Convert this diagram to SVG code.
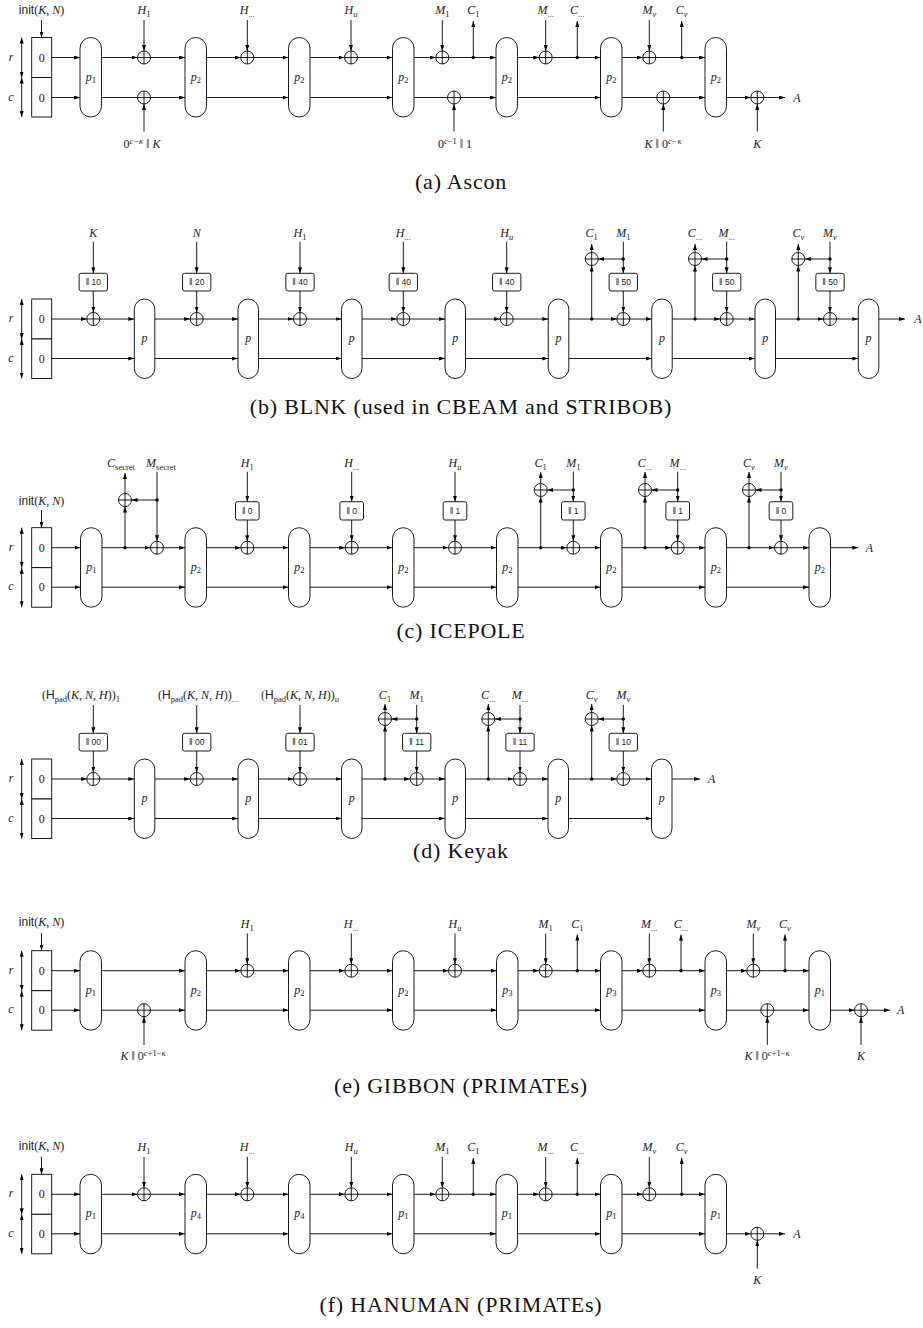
<svg xmlns="http://www.w3.org/2000/svg" xmlns:xlink="http://www.w3.org/1999/xlink" width="923" height="1328" viewBox="0 0 923 1328">
<style>
.w{fill:none;stroke:#000;stroke-width:0.9;marker-end:url(#ah)}
.b{marker-start:url(#ah)}
.pb{fill:#fff;stroke:#000;stroke-width:0.9}
.t{font-family:"Liberation Serif",serif;font-size:12px;fill:#222;text-anchor:middle}
.i{font-style:italic}
.s{font-size:8.5px}
.sf{font-family:"Liberation Sans",sans-serif}
.bt{font-family:"Liberation Sans",sans-serif;font-size:8.5px;fill:#222;text-anchor:middle}
.cap{font-family:"Liberation Serif",serif;font-size:22px;fill:#111;text-anchor:middle;letter-spacing:0.8px}
</style>
<defs>
<marker id="ah" viewBox="0 0 6 4" refX="6" refY="2" markerWidth="6" markerHeight="4" markerUnits="userSpaceOnUse" orient="auto-start-reverse"><path d="M0,0L6,2L0,4z" fill="#000"/></marker>
<g id="x"><circle r="6.5" fill="#fff" stroke="#000" stroke-width="0.9"/><path d="M-6.5,0H6.5M0,-6.5V6.5" stroke="#000" stroke-width="0.9"/></g>
<circle id="d" r="1.7" fill="#000"/>
</defs>
<rect width="923" height="1328" fill="#fff"/>

<!-- ===== Panel (a) Ascon ===== -->
<g id="a-conn" class="w">
<path d="M51.7 57.5H80"/><path d="M101.5 57.5H137.5"/><path d="M150.5 57.5H185"/><path d="M206.5 57.5H240.8"/><path d="M253.8 57.5H288.5"/><path d="M310 57.5H344.5"/><path d="M357.5 57.5H392.5"/><path d="M414 57.5H435.8"/><path d="M448.8 57.5H496"/><path d="M517.5 57.5H539.2"/><path d="M552.2 57.5H600.5"/><path d="M622 57.5H642.8"/><path d="M655.8 57.5H705"/>
<path d="M51.7 97.5H80"/><path d="M101.5 97.5H185"/><path d="M206.5 97.5H288.5"/><path d="M310 97.5H392.5"/><path d="M414 97.5H496"/><path d="M517.5 97.5H600.5"/><path d="M622 97.5H705"/><path d="M726.5 97.5H750.8"/><path d="M763.8 97.5H785"/>
<path d="M41.5 20V37.5"/><path d="M144 20V51"/><path d="M247.3 20V51"/><path d="M351 20V51"/><path d="M442.3 20V51"/><path d="M545.7 20V51"/><path d="M649.3 20V51"/>
<path d="M473.3 57.5V21"/><path d="M577.3 57.5V21"/><path d="M681.7 57.5V21"/>
<path d="M144 131.5V104"/><path d="M454 131.5V104"/><path d="M663.3 131.5V104"/><path d="M757.3 131.5V104"/>
<path class="b" d="M21.7 37.5V77.5"/><path class="b" d="M21.7 77.5V117"/>
</g>
<g id="a-nodes">
<g id="a-init"><rect class="pb" x="31.7" y="37.5" width="20" height="40"/><rect class="pb" x="31.7" y="77.5" width="20" height="39.5"/><text class="t" x="41.7" y="61.5">0</text><text class="t" x="41.7" y="101.5">0</text><text class="t" x="41.5" y="14"><tspan class="sf">init</tspan>(<tspan class="i">K</tspan>, <tspan class="i">N</tspan>)</text><text class="t i" x="11" y="60.5">r</text><text class="t i" x="11" y="100.5">c</text></g>
<g id="a-p1"><rect class="pb" x="80" y="37.5" width="21.5" height="79.5" rx="10.75"/><text class="t" x="90.75" y="80.5"><tspan class="i">p</tspan><tspan class="s" dy="2">1</tspan></text></g>
<g id="a-p2"><rect class="pb" x="185" y="37.5" width="21.5" height="79.5" rx="10.75"/><text class="t" x="195.75" y="80.5"><tspan class="i">p</tspan><tspan class="s" dy="2">2</tspan></text></g>
<g id="a-p3"><rect class="pb" x="288.5" y="37.5" width="21.5" height="79.5" rx="10.75"/><text class="t" x="299.25" y="80.5"><tspan class="i">p</tspan><tspan class="s" dy="2">2</tspan></text></g>
<g id="a-p4"><rect class="pb" x="392.5" y="37.5" width="21.5" height="79.5" rx="10.75"/><text class="t" x="403.25" y="80.5"><tspan class="i">p</tspan><tspan class="s" dy="2">2</tspan></text></g>
<g id="a-p5"><rect class="pb" x="496" y="37.5" width="21.5" height="79.5" rx="10.75"/><text class="t" x="506.75" y="80.5"><tspan class="i">p</tspan><tspan class="s" dy="2">2</tspan></text></g>
<g id="a-p6"><rect class="pb" x="600.5" y="37.5" width="21.5" height="79.5" rx="10.75"/><text class="t" x="611.25" y="80.5"><tspan class="i">p</tspan><tspan class="s" dy="2">2</tspan></text></g>
<g id="a-p7"><rect class="pb" x="705" y="37.5" width="21.5" height="79.5" rx="10.75"/><text class="t" x="715.75" y="80.5"><tspan class="i">p</tspan><tspan class="s" dy="2">2</tspan></text></g>
<g id="a-x1"><use xlink:href="#x" x="144" y="57.5"/><text class="t" x="144" y="14"><tspan class="i">H</tspan><tspan class="s" dy="2.5">1</tspan></text></g>
<g id="a-x2"><use xlink:href="#x" x="247.3" y="57.5"/><text class="t" x="247.3" y="14"><tspan class="i">H</tspan><tspan class="s" dy="2.5">...</tspan></text></g>
<g id="a-x3"><use xlink:href="#x" x="351" y="57.5"/><text class="t" x="351" y="14"><tspan class="i">H</tspan><tspan class="s i" dy="2.5">u</tspan></text></g>
<g id="a-x4"><use xlink:href="#x" x="442.3" y="57.5"/><text class="t" x="442.3" y="14"><tspan class="i">M</tspan><tspan class="s" dy="2.5">1</tspan></text></g>
<g id="a-d1"><use xlink:href="#d" x="473.3" y="57.5"/><text class="t" x="473.3" y="14"><tspan class="i">C</tspan><tspan class="s" dy="2.5">1</tspan></text></g>
<g id="a-x5"><use xlink:href="#x" x="545.7" y="57.5"/><text class="t" x="545.7" y="14"><tspan class="i">M</tspan><tspan class="s" dy="2.5">...</tspan></text></g>
<g id="a-d2"><use xlink:href="#d" x="577.3" y="57.5"/><text class="t" x="577.3" y="14"><tspan class="i">C</tspan><tspan class="s" dy="2.5">...</tspan></text></g>
<g id="a-x6"><use xlink:href="#x" x="649.3" y="57.5"/><text class="t" x="649.3" y="14"><tspan class="i">M</tspan><tspan class="s i" dy="2.5">v</tspan></text></g>
<g id="a-d3"><use xlink:href="#d" x="681.7" y="57.5"/><text class="t" x="681.7" y="14"><tspan class="i">C</tspan><tspan class="s i" dy="2.5">v</tspan></text></g>
<g id="a-x7"><use xlink:href="#x" x="144" y="97.5"/><text class="t" x="142" y="148">0<tspan class="s i" dy="-4">c−κ</tspan><tspan dy="4"> ‖ </tspan><tspan class="i">K</tspan></text></g>
<g id="a-x8"><use xlink:href="#x" x="454" y="97.5"/><text class="t" x="455" y="148">0<tspan class="s" dy="-4"><tspan class="i">c</tspan>−1</tspan><tspan dy="4"> ‖ 1</tspan></text></g>
<g id="a-x9"><use xlink:href="#x" x="663.3" y="97.5"/><text class="t" x="663" y="148"><tspan class="i">K</tspan> ‖ 0<tspan class="s i" dy="-4">c−κ</tspan></text></g>
<g id="a-x10"><use xlink:href="#x" x="757.3" y="97.5"/><text class="t i" x="757.3" y="148">K</text></g>
<text class="t i" x="797" y="101.5">A</text>
<text class="cap" x="461" y="189">(a) Ascon</text>
</g>

<!-- ===== Panel (b) BLNK ===== -->
<g id="b-conn" class="w">
<path d="M51.7 319H86.8"/><path d="M99.8 319H134.3"/><path d="M154.8 319H190.2"/><path d="M203.2 319H238"/><path d="M258.5 319H293.5"/><path d="M306.5 319H341.5"/><path d="M362 319H396.8"/><path d="M409.8 319H445"/><path d="M465.5 319H500.2"/><path d="M513.2 319H548.3"/><path d="M568.8 319H616.8"/><path d="M629.8 319H651.7"/><path d="M672.2 319H720.2"/><path d="M733.2 319H755"/><path d="M775.5 319H823.5"/><path d="M836.5 319H858.3"/><path d="M878.8 319H905"/>
<path d="M51.7 358.5H134.3"/><path d="M154.8 358.5H238"/><path d="M258.5 358.5H341.5"/><path d="M362 358.5H445"/><path d="M465.5 358.5H548.3"/><path d="M568.8 358.5H651.7"/><path d="M672.2 358.5H755"/><path d="M775.5 358.5H858.3"/>
<path d="M93.3 241.7V273.3"/><path d="M196.7 241.7V273.3"/><path d="M300 241.7V273.3"/><path d="M403.3 241.7V273.3"/><path d="M506.7 241.7V273.3"/><path d="M623.3 241.7V273.3"/><path d="M726.7 241.7V273.3"/><path d="M830 241.7V273.3"/>
<path d="M93.3 291V312.5"/><path d="M196.7 291V312.5"/><path d="M300 291V312.5"/><path d="M403.3 291V312.5"/><path d="M506.7 291V312.5"/><path d="M623.3 291V312.5"/><path d="M726.7 291V312.5"/><path d="M830 291V312.5"/>
<path d="M591.7 319V265.5"/><path d="M591.7 252.5V244"/><path d="M695 319V265.5"/><path d="M695 252.5V244"/><path d="M798.3 319V265.5"/><path d="M798.3 252.5V244"/>
<path d="M623.3 259H598.2"/><path d="M726.7 259H701.5"/><path d="M830 259H804.8"/>
<path class="b" d="M21.7 299V339"/><path class="b" d="M21.7 339V378.5"/>
</g>
<g id="b-nodes">
<g id="b-init"><rect class="pb" x="31.7" y="299" width="20" height="40"/><rect class="pb" x="31.7" y="339" width="20" height="39.5"/><text class="t" x="41.7" y="323">0</text><text class="t" x="41.7" y="362.5">0</text><text class="t i" x="11" y="322">r</text><text class="t i" x="11" y="361.5">c</text></g>
<g id="b-p1"><rect class="pb" x="134.3" y="299" width="20.5" height="79.5" rx="10.25"/><text class="t i" x="144.55" y="342">p</text></g>
<g id="b-p2"><rect class="pb" x="238" y="299" width="20.5" height="79.5" rx="10.25"/><text class="t i" x="248.25" y="342">p</text></g>
<g id="b-p3"><rect class="pb" x="341.5" y="299" width="20.5" height="79.5" rx="10.25"/><text class="t i" x="351.75" y="342">p</text></g>
<g id="b-p4"><rect class="pb" x="445" y="299" width="20.5" height="79.5" rx="10.25"/><text class="t i" x="455.25" y="342">p</text></g>
<g id="b-p5"><rect class="pb" x="548.3" y="299" width="20.5" height="79.5" rx="10.25"/><text class="t i" x="558.55" y="342">p</text></g>
<g id="b-p6"><rect class="pb" x="651.7" y="299" width="20.5" height="79.5" rx="10.25"/><text class="t i" x="661.95" y="342">p</text></g>
<g id="b-p7"><rect class="pb" x="755" y="299" width="20.5" height="79.5" rx="10.25"/><text class="t i" x="765.25" y="342">p</text></g>
<g id="b-p8"><rect class="pb" x="858.3" y="299" width="20.5" height="79.5" rx="10.25"/><text class="t i" x="868.55" y="342">p</text></g>
<g id="b-x1"><use xlink:href="#x" x="93.3" y="319"/><rect class="pb" x="79.15" y="273.3" width="28.3" height="17.7" rx="2"/><text class="bt" x="93.3" y="285.3">‖ 10</text><text class="t i" x="93.3" y="237.3">K</text></g>
<g id="b-x2"><use xlink:href="#x" x="196.7" y="319"/><rect class="pb" x="182.55" y="273.3" width="28.3" height="17.7" rx="2"/><text class="bt" x="196.7" y="285.3">‖ 20</text><text class="t i" x="196.7" y="237.3">N</text></g>
<g id="b-x3"><use xlink:href="#x" x="300" y="319"/><rect class="pb" x="285.85" y="273.3" width="28.3" height="17.7" rx="2"/><text class="bt" x="300" y="285.3">‖ 40</text><text class="t" x="300" y="237.3"><tspan class="i">H</tspan><tspan class="s" dy="2.5">1</tspan></text></g>
<g id="b-x4"><use xlink:href="#x" x="403.3" y="319"/><rect class="pb" x="389.15" y="273.3" width="28.3" height="17.7" rx="2"/><text class="bt" x="403.3" y="285.3">‖ 40</text><text class="t" x="403.3" y="237.3"><tspan class="i">H</tspan><tspan class="s" dy="2.5">...</tspan></text></g>
<g id="b-x5"><use xlink:href="#x" x="506.7" y="319"/><rect class="pb" x="492.55" y="273.3" width="28.3" height="17.7" rx="2"/><text class="bt" x="506.7" y="285.3">‖ 40</text><text class="t" x="506.7" y="237.3"><tspan class="i">H</tspan><tspan class="s i" dy="2.5">u</tspan></text></g>
<g id="b-x6"><use xlink:href="#x" x="623.3" y="319"/><rect class="pb" x="609.15" y="273.3" width="28.3" height="17.7" rx="2"/><text class="bt" x="623.3" y="285.3">‖ 50</text><use xlink:href="#d" x="623.3" y="259"/><text class="t" x="623.3" y="237.3"><tspan class="i">M</tspan><tspan class="s" dy="2.5">1</tspan></text></g>
<g id="b-c1"><use xlink:href="#d" x="591.7" y="319"/><use xlink:href="#x" x="591.7" y="259"/><text class="t" x="591.7" y="237.3"><tspan class="i">C</tspan><tspan class="s" dy="2.5">1</tspan></text></g>
<g id="b-x7"><use xlink:href="#x" x="726.7" y="319"/><rect class="pb" x="712.55" y="273.3" width="28.3" height="17.7" rx="2"/><text class="bt" x="726.7" y="285.3">‖ 50</text><use xlink:href="#d" x="726.7" y="259"/><text class="t" x="726.7" y="237.3"><tspan class="i">M</tspan><tspan class="s" dy="2.5">...</tspan></text></g>
<g id="b-c2"><use xlink:href="#d" x="695" y="319"/><use xlink:href="#x" x="695" y="259"/><text class="t" x="695" y="237.3"><tspan class="i">C</tspan><tspan class="s" dy="2.5">...</tspan></text></g>
<g id="b-x8"><use xlink:href="#x" x="830" y="319"/><rect class="pb" x="815.85" y="273.3" width="28.3" height="17.7" rx="2"/><text class="bt" x="830" y="285.3">‖ 50</text><use xlink:href="#d" x="830" y="259"/><text class="t" x="830" y="237.3"><tspan class="i">M</tspan><tspan class="s i" dy="2.5">v</tspan></text></g>
<g id="b-c3"><use xlink:href="#d" x="798.3" y="319"/><use xlink:href="#x" x="798.3" y="259"/><text class="t" x="798.3" y="237.3"><tspan class="i">C</tspan><tspan class="s i" dy="2.5">v</tspan></text></g>
<text class="t i" x="918" y="323">A</text>
<text class="cap" x="461" y="414">(b) BLNK (used in CBEAM and STRIBOB)</text>
</g>

<!-- ===== Panel (c) ICEPOLE ===== -->
<g id="c-conn" class="w">
<path d="M51.7 547.7H80.5"/><path d="M102 547.7H150.5"/><path d="M163.5 547.7H185"/><path d="M206.5 547.7H240.8"/><path d="M253.8 547.7H288.5"/><path d="M310 547.7H345.2"/><path d="M358.2 547.7H392.5"/><path d="M414 547.7H448.5"/><path d="M461.5 547.7H496.5"/><path d="M518 547.7H566.8"/><path d="M579.8 547.7H600.5"/><path d="M622 547.7H671.2"/><path d="M684.2 547.7H705"/><path d="M726.5 547.7H774.5"/><path d="M787.5 547.7H809"/><path d="M830.5 547.7H858.3"/>
<path d="M51.7 587.2H80.5"/><path d="M102 587.2H185"/><path d="M206.5 587.2H288.5"/><path d="M310 587.2H392.5"/><path d="M414 587.2H496.5"/><path d="M518 587.2H600.5"/><path d="M622 587.2H705"/><path d="M726.5 587.2H809"/>
<path d="M41.5 510V527.7"/>
<path d="M157 471.7V541.2"/><path d="M125 547.7V506.5"/><path d="M125 493.5V473"/><path d="M157 500H131.5"/>
<path d="M247.3 471.7V501.7"/><path d="M247.3 520V541.2"/><path d="M351.7 471.7V501.7"/><path d="M351.7 520V541.2"/><path d="M455 471.7V501.7"/><path d="M455 520V541.2"/>
<path d="M540.7 547.7V496.5"/><path d="M540.7 483.5V472"/><path d="M573.3 471.7V501.7"/><path d="M573.3 520V541.2"/><path d="M573.3 490H547.2"/>
<path d="M645 547.7V496.5"/><path d="M645 483.5V472"/><path d="M677.7 471.7V501.7"/><path d="M677.7 520V541.2"/><path d="M677.7 490H651.5"/>
<path d="M749 547.7V496.5"/><path d="M749 483.5V472"/><path d="M781 471.7V501.7"/><path d="M781 520V541.2"/><path d="M781 490H755.5"/>
<path class="b" d="M21.7 527.7V567.7"/><path class="b" d="M21.7 567.7V607.2"/>
</g>
<g id="c-nodes">
<g id="c-init"><rect class="pb" x="31.7" y="527.7" width="20" height="40"/><rect class="pb" x="31.7" y="567.7" width="20" height="39.5"/><text class="t" x="41.7" y="551.7">0</text><text class="t" x="41.7" y="591.2">0</text><text class="t" x="41.5" y="505"><tspan class="sf">init</tspan>(<tspan class="i">K</tspan>, <tspan class="i">N</tspan>)</text><text class="t i" x="11" y="550.7">r</text><text class="t i" x="11" y="590.2">c</text></g>
<g id="c-p1"><rect class="pb" x="80.5" y="527.7" width="21.5" height="79.5" rx="10.75"/><text class="t" x="91.25" y="570.7"><tspan class="i">p</tspan><tspan class="s" dy="2">1</tspan></text></g>
<g id="c-p2"><rect class="pb" x="185" y="527.7" width="21.5" height="79.5" rx="10.75"/><text class="t" x="195.75" y="570.7"><tspan class="i">p</tspan><tspan class="s" dy="2">2</tspan></text></g>
<g id="c-p3"><rect class="pb" x="288.5" y="527.7" width="21.5" height="79.5" rx="10.75"/><text class="t" x="299.25" y="570.7"><tspan class="i">p</tspan><tspan class="s" dy="2">2</tspan></text></g>
<g id="c-p4"><rect class="pb" x="392.5" y="527.7" width="21.5" height="79.5" rx="10.75"/><text class="t" x="403.25" y="570.7"><tspan class="i">p</tspan><tspan class="s" dy="2">2</tspan></text></g>
<g id="c-p5"><rect class="pb" x="496.5" y="527.7" width="21.5" height="79.5" rx="10.75"/><text class="t" x="507.25" y="570.7"><tspan class="i">p</tspan><tspan class="s" dy="2">2</tspan></text></g>
<g id="c-p6"><rect class="pb" x="600.5" y="527.7" width="21.5" height="79.5" rx="10.75"/><text class="t" x="611.25" y="570.7"><tspan class="i">p</tspan><tspan class="s" dy="2">2</tspan></text></g>
<g id="c-p7"><rect class="pb" x="705" y="527.7" width="21.5" height="79.5" rx="10.75"/><text class="t" x="715.75" y="570.7"><tspan class="i">p</tspan><tspan class="s" dy="2">2</tspan></text></g>
<g id="c-p8"><rect class="pb" x="809" y="527.7" width="21.5" height="79.5" rx="10.75"/><text class="t" x="819.75" y="570.7"><tspan class="i">p</tspan><tspan class="s" dy="2">2</tspan></text></g>
<g id="c-sec"><use xlink:href="#d" x="125" y="547.7"/><use xlink:href="#x" x="125" y="500"/><use xlink:href="#d" x="157" y="500"/><use xlink:href="#x" x="157" y="547.7"/><text class="t" x="121" y="467"><tspan class="i">C</tspan><tspan class="s" dy="2.5">secret</tspan></text><text class="t" x="161" y="467"><tspan class="i">M</tspan><tspan class="s" dy="2.5">secret</tspan></text></g>
<g id="c-x1"><use xlink:href="#x" x="247.3" y="547.7"/><rect class="pb" x="235.5" y="501.7" width="23.6" height="18.3" rx="2"/><text class="bt" x="247.3" y="514">‖ 0</text><text class="t" x="247.3" y="467"><tspan class="i">H</tspan><tspan class="s" dy="2.5">1</tspan></text></g>
<g id="c-x2"><use xlink:href="#x" x="351.7" y="547.7"/><rect class="pb" x="339.9" y="501.7" width="23.6" height="18.3" rx="2"/><text class="bt" x="351.7" y="514">‖ 0</text><text class="t" x="351.7" y="467"><tspan class="i">H</tspan><tspan class="s" dy="2.5">...</tspan></text></g>
<g id="c-x3"><use xlink:href="#x" x="455" y="547.7"/><rect class="pb" x="443.2" y="501.7" width="23.6" height="18.3" rx="2"/><text class="bt" x="455" y="514">‖ 1</text><text class="t" x="455" y="467"><tspan class="i">H</tspan><tspan class="s i" dy="2.5">u</tspan></text></g>
<g id="c-x4"><use xlink:href="#x" x="573.3" y="547.7"/><rect class="pb" x="561.5" y="501.7" width="23.6" height="18.3" rx="2"/><text class="bt" x="573.3" y="514">‖ 1</text><use xlink:href="#d" x="573.3" y="490"/><text class="t" x="573.3" y="467"><tspan class="i">M</tspan><tspan class="s" dy="2.5">1</tspan></text></g>
<g id="c-c1"><use xlink:href="#d" x="540.7" y="547.7"/><use xlink:href="#x" x="540.7" y="490"/><text class="t" x="540.7" y="467"><tspan class="i">C</tspan><tspan class="s" dy="2.5">1</tspan></text></g>
<g id="c-x5"><use xlink:href="#x" x="677.7" y="547.7"/><rect class="pb" x="665.9" y="501.7" width="23.6" height="18.3" rx="2"/><text class="bt" x="677.7" y="514">‖ 1</text><use xlink:href="#d" x="677.7" y="490"/><text class="t" x="677.7" y="467"><tspan class="i">M</tspan><tspan class="s" dy="2.5">...</tspan></text></g>
<g id="c-c2"><use xlink:href="#d" x="645" y="547.7"/><use xlink:href="#x" x="645" y="490"/><text class="t" x="645" y="467"><tspan class="i">C</tspan><tspan class="s" dy="2.5">...</tspan></text></g>
<g id="c-x6"><use xlink:href="#x" x="781" y="547.7"/><rect class="pb" x="769.2" y="501.7" width="23.6" height="18.3" rx="2"/><text class="bt" x="781" y="514">‖ 0</text><use xlink:href="#d" x="781" y="490"/><text class="t" x="781" y="467"><tspan class="i">M</tspan><tspan class="s i" dy="2.5">v</tspan></text></g>
<g id="c-c3"><use xlink:href="#d" x="749" y="547.7"/><use xlink:href="#x" x="749" y="490"/><text class="t" x="749" y="467"><tspan class="i">C</tspan><tspan class="s i" dy="2.5">v</tspan></text></g>
<text class="t i" x="869.3" y="551.7">A</text>
<text class="cap" x="461" y="638">(c) ICEPOLE</text>
</g>

<!-- ===== Panel (d) Keyak ===== -->
<g id="d-conn" class="w">
<path d="M51.7 779H86.8"/><path d="M99.8 779H134.3"/><path d="M154.8 779H190.2"/><path d="M203.2 779H238"/><path d="M258.5 779H293.5"/><path d="M306.5 779H341.5"/><path d="M362 779H410.2"/><path d="M423.2 779H445"/><path d="M465.5 779H513.5"/><path d="M526.5 779H548"/><path d="M568.5 779H616.8"/><path d="M629.8 779H651.5"/><path d="M672 779H700"/>
<path d="M51.7 818.5H134.3"/><path d="M154.8 818.5H238"/><path d="M258.5 818.5H341.5"/><path d="M362 818.5H445"/><path d="M465.5 818.5H548"/><path d="M568.5 818.5H651.5"/>
<path d="M93.3 705V733.3"/><path d="M196.7 705V733.3"/><path d="M300 705V733.3"/><path d="M416.7 705V733.3"/><path d="M520 705V733.3"/><path d="M623.3 705V733.3"/>
<path d="M93.3 751V772.5"/><path d="M196.7 751V772.5"/><path d="M300 751V772.5"/><path d="M416.7 751V772.5"/><path d="M520 751V772.5"/><path d="M623.3 751V772.5"/>
<path d="M385 779V725.5"/><path d="M385 712.5V704"/><path d="M416.7 719H391.5"/>
<path d="M488.3 779V725.5"/><path d="M488.3 712.5V704"/><path d="M520 719H494.8"/>
<path d="M591.7 779V725.5"/><path d="M591.7 712.5V704"/><path d="M623.3 719H598.2"/>
<path class="b" d="M21.7 759V799"/><path class="b" d="M21.7 799V838.5"/>
</g>
<g id="d-nodes">
<g id="d-init"><rect class="pb" x="31.7" y="759" width="20" height="40"/><rect class="pb" x="31.7" y="799" width="20" height="39.5"/><text class="t" x="41.7" y="783">0</text><text class="t" x="41.7" y="822.5">0</text><text class="t i" x="11" y="782">r</text><text class="t i" x="11" y="821.5">c</text></g>
<g id="d-p1"><rect class="pb" x="134.3" y="759" width="20.5" height="79.5" rx="10.25"/><text class="t i" x="144.55" y="802">p</text></g>
<g id="d-p2"><rect class="pb" x="238" y="759" width="20.5" height="79.5" rx="10.25"/><text class="t i" x="248.25" y="802">p</text></g>
<g id="d-p3"><rect class="pb" x="341.5" y="759" width="20.5" height="79.5" rx="10.25"/><text class="t i" x="351.75" y="802">p</text></g>
<g id="d-p4"><rect class="pb" x="445" y="759" width="20.5" height="79.5" rx="10.25"/><text class="t i" x="455.25" y="802">p</text></g>
<g id="d-p5"><rect class="pb" x="548" y="759" width="20.5" height="79.5" rx="10.25"/><text class="t i" x="558.25" y="802">p</text></g>
<g id="d-p6"><rect class="pb" x="651.5" y="759" width="20.5" height="79.5" rx="10.25"/><text class="t i" x="661.75" y="802">p</text></g>
<g id="d-x1"><use xlink:href="#x" x="93.3" y="779"/><rect class="pb" x="79.15" y="733.3" width="28.3" height="17.7" rx="2"/><text class="bt" x="93.3" y="745.3">‖ 00</text><text class="t" x="81" y="699">(<tspan class="sf">H</tspan><tspan class="s" dy="2.5">pad</tspan><tspan dy="-2.5">(</tspan><tspan class="i">K</tspan>, <tspan class="i">N</tspan>, <tspan class="i">H</tspan>))<tspan class="s" dy="2.5">1</tspan></text></g>
<g id="d-x2"><use xlink:href="#x" x="196.7" y="779"/><rect class="pb" x="182.55" y="733.3" width="28.3" height="17.7" rx="2"/><text class="bt" x="196.7" y="745.3">‖ 00</text><text class="t" x="198" y="699">(<tspan class="sf">H</tspan><tspan class="s" dy="2.5">pad</tspan><tspan dy="-2.5">(</tspan><tspan class="i">K</tspan>, <tspan class="i">N</tspan>, <tspan class="i">H</tspan>))<tspan class="s" dy="2.5">...</tspan></text></g>
<g id="d-x3"><use xlink:href="#x" x="300" y="779"/><rect class="pb" x="285.85" y="733.3" width="28.3" height="17.7" rx="2"/><text class="bt" x="300" y="745.3">‖ 01</text><text class="t" x="300" y="699">(<tspan class="sf">H</tspan><tspan class="s" dy="2.5">pad</tspan><tspan dy="-2.5">(</tspan><tspan class="i">K</tspan>, <tspan class="i">N</tspan>, <tspan class="i">H</tspan>))<tspan class="s i" dy="2.5">u</tspan></text></g>
<g id="d-x4"><use xlink:href="#x" x="416.7" y="779"/><rect class="pb" x="402.55" y="733.3" width="28.3" height="17.7" rx="2"/><text class="bt" x="416.7" y="745.3">‖ 11</text><use xlink:href="#d" x="416.7" y="719"/><text class="t" x="416.7" y="699"><tspan class="i">M</tspan><tspan class="s" dy="2.5">1</tspan></text></g>
<g id="d-c1"><use xlink:href="#d" x="385" y="779"/><use xlink:href="#x" x="385" y="719"/><text class="t" x="385" y="699"><tspan class="i">C</tspan><tspan class="s" dy="2.5">1</tspan></text></g>
<g id="d-x5"><use xlink:href="#x" x="520" y="779"/><rect class="pb" x="505.85" y="733.3" width="28.3" height="17.7" rx="2"/><text class="bt" x="520" y="745.3">‖ 11</text><use xlink:href="#d" x="520" y="719"/><text class="t" x="520" y="699"><tspan class="i">M</tspan><tspan class="s" dy="2.5">...</tspan></text></g>
<g id="d-c2"><use xlink:href="#d" x="488.3" y="779"/><use xlink:href="#x" x="488.3" y="719"/><text class="t" x="488.3" y="699"><tspan class="i">C</tspan><tspan class="s" dy="2.5">...</tspan></text></g>
<g id="d-x6"><use xlink:href="#x" x="623.3" y="779"/><rect class="pb" x="609.15" y="733.3" width="28.3" height="17.7" rx="2"/><text class="bt" x="623.3" y="745.3">‖ 10</text><use xlink:href="#d" x="623.3" y="719"/><text class="t" x="623.3" y="699"><tspan class="i">M</tspan><tspan class="s i" dy="2.5">v</tspan></text></g>
<g id="d-c3"><use xlink:href="#d" x="591.7" y="779"/><use xlink:href="#x" x="591.7" y="719"/><text class="t" x="591.7" y="699"><tspan class="i">C</tspan><tspan class="s i" dy="2.5">v</tspan></text></g>
<text class="t i" x="711.7" y="783">A</text>
<text class="cap" x="461" y="858">(d) Keyak</text>
</g>

<!-- ===== Panel (e) GIBBON ===== -->
<g id="e-conn" class="w">
<path d="M51.7 970.7H80"/><path d="M101.5 970.7H185"/><path d="M206.5 970.7H240.8"/><path d="M253.8 970.7H288.5"/><path d="M310 970.7H344.8"/><path d="M357.8 970.7H392.5"/><path d="M414 970.7H448.5"/><path d="M461.5 970.7H496.5"/><path d="M518 970.7H539.2"/><path d="M552.2 970.7H600.5"/><path d="M622 970.7H642.8"/><path d="M655.8 970.7H705"/><path d="M726.5 970.7H746.8"/><path d="M759.8 970.7H809"/>
<path d="M51.7 1010.2H80"/><path d="M101.5 1010.2H185"/><path d="M206.5 1010.2H288.5"/><path d="M310 1010.2H392.5"/><path d="M414 1010.2H496.5"/><path d="M518 1010.2H600.5"/><path d="M622 1010.2H705"/><path d="M726.5 1010.2H809"/><path d="M830.5 1010.2H854.5"/><path d="M867.5 1010.2H890"/>
<path d="M41.5 933V950.7"/>
<path d="M247.3 933.5V964.2"/><path d="M351.3 933.5V964.2"/><path d="M455 933.5V964.2"/><path d="M545.7 933.5V964.2"/><path d="M649.3 933.5V964.2"/><path d="M753.3 933.5V964.2"/>
<path d="M577.3 970.7V934.5"/><path d="M681 970.7V934.5"/><path d="M785 970.7V934.5"/>
<path d="M144 1045V1016.7"/><path d="M767.3 1045V1016.7"/><path d="M861 1045V1016.7"/>
<path class="b" d="M21.7 950.7V990.7"/><path class="b" d="M21.7 990.7V1030.2"/>
</g>
<g id="e-nodes">
<g id="e-init"><rect class="pb" x="31.7" y="950.7" width="20" height="40"/><rect class="pb" x="31.7" y="990.7" width="20" height="39.5"/><text class="t" x="41.7" y="974.7">0</text><text class="t" x="41.7" y="1014.2">0</text><text class="t" x="41.5" y="925.7"><tspan class="sf">init</tspan>(<tspan class="i">K</tspan>, <tspan class="i">N</tspan>)</text><text class="t i" x="11" y="973.7">r</text><text class="t i" x="11" y="1013.2">c</text></g>
<g id="e-p1"><rect class="pb" x="80" y="950.7" width="21.5" height="79.5" rx="10.75"/><text class="t" x="90.75" y="993.7"><tspan class="i">p</tspan><tspan class="s" dy="2">1</tspan></text></g>
<g id="e-p2"><rect class="pb" x="185" y="950.7" width="21.5" height="79.5" rx="10.75"/><text class="t" x="195.75" y="993.7"><tspan class="i">p</tspan><tspan class="s" dy="2">2</tspan></text></g>
<g id="e-p3"><rect class="pb" x="288.5" y="950.7" width="21.5" height="79.5" rx="10.75"/><text class="t" x="299.25" y="993.7"><tspan class="i">p</tspan><tspan class="s" dy="2">2</tspan></text></g>
<g id="e-p4"><rect class="pb" x="392.5" y="950.7" width="21.5" height="79.5" rx="10.75"/><text class="t" x="403.25" y="993.7"><tspan class="i">p</tspan><tspan class="s" dy="2">2</tspan></text></g>
<g id="e-p5"><rect class="pb" x="496.5" y="950.7" width="21.5" height="79.5" rx="10.75"/><text class="t" x="507.25" y="993.7"><tspan class="i">p</tspan><tspan class="s" dy="2">3</tspan></text></g>
<g id="e-p6"><rect class="pb" x="600.5" y="950.7" width="21.5" height="79.5" rx="10.75"/><text class="t" x="611.25" y="993.7"><tspan class="i">p</tspan><tspan class="s" dy="2">3</tspan></text></g>
<g id="e-p7"><rect class="pb" x="705" y="950.7" width="21.5" height="79.5" rx="10.75"/><text class="t" x="715.75" y="993.7"><tspan class="i">p</tspan><tspan class="s" dy="2">3</tspan></text></g>
<g id="e-p8"><rect class="pb" x="809" y="950.7" width="21.5" height="79.5" rx="10.75"/><text class="t" x="819.75" y="993.7"><tspan class="i">p</tspan><tspan class="s" dy="2">1</tspan></text></g>
<g id="e-x1"><use xlink:href="#x" x="247.3" y="970.7"/><text class="t" x="247.3" y="928"><tspan class="i">H</tspan><tspan class="s" dy="2.5">1</tspan></text></g>
<g id="e-x2"><use xlink:href="#x" x="351.3" y="970.7"/><text class="t" x="351.3" y="928"><tspan class="i">H</tspan><tspan class="s" dy="2.5">...</tspan></text></g>
<g id="e-x3"><use xlink:href="#x" x="455" y="970.7"/><text class="t" x="455" y="928"><tspan class="i">H</tspan><tspan class="s i" dy="2.5">u</tspan></text></g>
<g id="e-x4"><use xlink:href="#x" x="545.7" y="970.7"/><text class="t" x="545.7" y="928"><tspan class="i">M</tspan><tspan class="s" dy="2.5">1</tspan></text></g>
<g id="e-d1"><use xlink:href="#d" x="577.3" y="970.7"/><text class="t" x="577.3" y="928"><tspan class="i">C</tspan><tspan class="s" dy="2.5">1</tspan></text></g>
<g id="e-x5"><use xlink:href="#x" x="649.3" y="970.7"/><text class="t" x="649.3" y="928"><tspan class="i">M</tspan><tspan class="s" dy="2.5">...</tspan></text></g>
<g id="e-d2"><use xlink:href="#d" x="681" y="970.7"/><text class="t" x="681" y="928"><tspan class="i">C</tspan><tspan class="s" dy="2.5">...</tspan></text></g>
<g id="e-x6"><use xlink:href="#x" x="753.3" y="970.7"/><text class="t" x="753.3" y="928"><tspan class="i">M</tspan><tspan class="s i" dy="2.5">v</tspan></text></g>
<g id="e-d3"><use xlink:href="#d" x="785" y="970.7"/><text class="t" x="785" y="928"><tspan class="i">C</tspan><tspan class="s i" dy="2.5">v</tspan></text></g>
<g id="e-x7"><use xlink:href="#x" x="144" y="1010.2"/><text class="t" x="143" y="1059.7"><tspan class="i">K</tspan> ‖ 0<tspan class="s" dy="-4"><tspan class="i">c</tspan>+1−<tspan class="i">κ</tspan></tspan></text></g>
<g id="e-x8"><use xlink:href="#x" x="767.3" y="1010.2"/><text class="t" x="767" y="1059.7"><tspan class="i">K</tspan> ‖ 0<tspan class="s" dy="-4"><tspan class="i">c</tspan>+1−<tspan class="i">κ</tspan></tspan></text></g>
<g id="e-x9"><use xlink:href="#x" x="861" y="1010.2"/><text class="t i" x="861" y="1059.7">K</text></g>
<text class="t i" x="900.7" y="1014.2">A</text>
<text class="cap" x="461" y="1093">(e) GIBBON (PRIMATEs)</text>
</g>

<!-- ===== Panel (f) HANUMAN ===== -->
<g id="f-conn" class="w">
<path d="M51.7 1194.3H80"/><path d="M101.5 1194.3H137.5"/><path d="M150.5 1194.3H185"/><path d="M206.5 1194.3H240.8"/><path d="M253.8 1194.3H288.5"/><path d="M310 1194.3H344.8"/><path d="M357.8 1194.3H392.5"/><path d="M414 1194.3H435.8"/><path d="M448.8 1194.3H496"/><path d="M517.5 1194.3H539.2"/><path d="M552.2 1194.3H600.5"/><path d="M622 1194.3H642.8"/><path d="M655.8 1194.3H705"/>
<path d="M51.7 1233.8H80"/><path d="M101.5 1233.8H185"/><path d="M206.5 1233.8H288.5"/><path d="M310 1233.8H392.5"/><path d="M414 1233.8H496"/><path d="M517.5 1233.8H600.5"/><path d="M622 1233.8H705"/><path d="M726.5 1233.8H750.8"/><path d="M763.8 1233.8H785"/>
<path d="M41.5 1156.7V1174.3"/>
<path d="M144 1157V1187.8"/><path d="M247.3 1157V1187.8"/><path d="M351.3 1157V1187.8"/><path d="M442.3 1157V1187.8"/><path d="M545.7 1157V1187.8"/><path d="M649.3 1157V1187.8"/>
<path d="M473.3 1194.3V1158"/><path d="M577.3 1194.3V1158"/><path d="M681.7 1194.3V1158"/>
<path d="M757.3 1268.7V1240.3"/>
<path class="b" d="M21.7 1174.3V1214.3"/><path class="b" d="M21.7 1214.3V1253.8"/>
</g>
<g id="f-nodes">
<g id="f-init"><rect class="pb" x="31.7" y="1174.3" width="20" height="40"/><rect class="pb" x="31.7" y="1214.3" width="20" height="39.5"/><text class="t" x="41.7" y="1198.3">0</text><text class="t" x="41.7" y="1237.8">0</text><text class="t" x="41.5" y="1150"><tspan class="sf">init</tspan>(<tspan class="i">K</tspan>, <tspan class="i">N</tspan>)</text><text class="t i" x="11" y="1197.3">r</text><text class="t i" x="11" y="1236.8">c</text></g>
<g id="f-p1"><rect class="pb" x="80" y="1174.3" width="21.5" height="79.5" rx="10.75"/><text class="t" x="90.75" y="1217.3"><tspan class="i">p</tspan><tspan class="s" dy="2">1</tspan></text></g>
<g id="f-p2"><rect class="pb" x="185" y="1174.3" width="21.5" height="79.5" rx="10.75"/><text class="t" x="195.75" y="1217.3"><tspan class="i">p</tspan><tspan class="s" dy="2">4</tspan></text></g>
<g id="f-p3"><rect class="pb" x="288.5" y="1174.3" width="21.5" height="79.5" rx="10.75"/><text class="t" x="299.25" y="1217.3"><tspan class="i">p</tspan><tspan class="s" dy="2">4</tspan></text></g>
<g id="f-p4"><rect class="pb" x="392.5" y="1174.3" width="21.5" height="79.5" rx="10.75"/><text class="t" x="403.25" y="1217.3"><tspan class="i">p</tspan><tspan class="s" dy="2">1</tspan></text></g>
<g id="f-p5"><rect class="pb" x="496" y="1174.3" width="21.5" height="79.5" rx="10.75"/><text class="t" x="506.75" y="1217.3"><tspan class="i">p</tspan><tspan class="s" dy="2">1</tspan></text></g>
<g id="f-p6"><rect class="pb" x="600.5" y="1174.3" width="21.5" height="79.5" rx="10.75"/><text class="t" x="611.25" y="1217.3"><tspan class="i">p</tspan><tspan class="s" dy="2">1</tspan></text></g>
<g id="f-p7"><rect class="pb" x="705" y="1174.3" width="21.5" height="79.5" rx="10.75"/><text class="t" x="715.75" y="1217.3"><tspan class="i">p</tspan><tspan class="s" dy="2">1</tspan></text></g>
<g id="f-x1"><use xlink:href="#x" x="144" y="1194.3"/><text class="t" x="144" y="1151.3"><tspan class="i">H</tspan><tspan class="s" dy="2.5">1</tspan></text></g>
<g id="f-x2"><use xlink:href="#x" x="247.3" y="1194.3"/><text class="t" x="247.3" y="1151.3"><tspan class="i">H</tspan><tspan class="s" dy="2.5">...</tspan></text></g>
<g id="f-x3"><use xlink:href="#x" x="351.3" y="1194.3"/><text class="t" x="351.3" y="1151.3"><tspan class="i">H</tspan><tspan class="s i" dy="2.5">u</tspan></text></g>
<g id="f-x4"><use xlink:href="#x" x="442.3" y="1194.3"/><text class="t" x="442.3" y="1151.3"><tspan class="i">M</tspan><tspan class="s" dy="2.5">1</tspan></text></g>
<g id="f-d1"><use xlink:href="#d" x="473.3" y="1194.3"/><text class="t" x="473.3" y="1151.3"><tspan class="i">C</tspan><tspan class="s" dy="2.5">1</tspan></text></g>
<g id="f-x5"><use xlink:href="#x" x="545.7" y="1194.3"/><text class="t" x="545.7" y="1151.3"><tspan class="i">M</tspan><tspan class="s" dy="2.5">...</tspan></text></g>
<g id="f-d2"><use xlink:href="#d" x="577.3" y="1194.3"/><text class="t" x="577.3" y="1151.3"><tspan class="i">C</tspan><tspan class="s" dy="2.5">...</tspan></text></g>
<g id="f-x6"><use xlink:href="#x" x="649.3" y="1194.3"/><text class="t" x="649.3" y="1151.3"><tspan class="i">M</tspan><tspan class="s i" dy="2.5">v</tspan></text></g>
<g id="f-d3"><use xlink:href="#d" x="681.7" y="1194.3"/><text class="t" x="681.7" y="1151.3"><tspan class="i">C</tspan><tspan class="s i" dy="2.5">v</tspan></text></g>
<g id="f-x7"><use xlink:href="#x" x="757.3" y="1233.8"/><text class="t i" x="757.3" y="1284">K</text></g>
<text class="t i" x="797" y="1237.8">A</text>
<text class="cap" x="461" y="1312">(f) HANUMAN (PRIMATEs)</text>
</g>
</svg>
